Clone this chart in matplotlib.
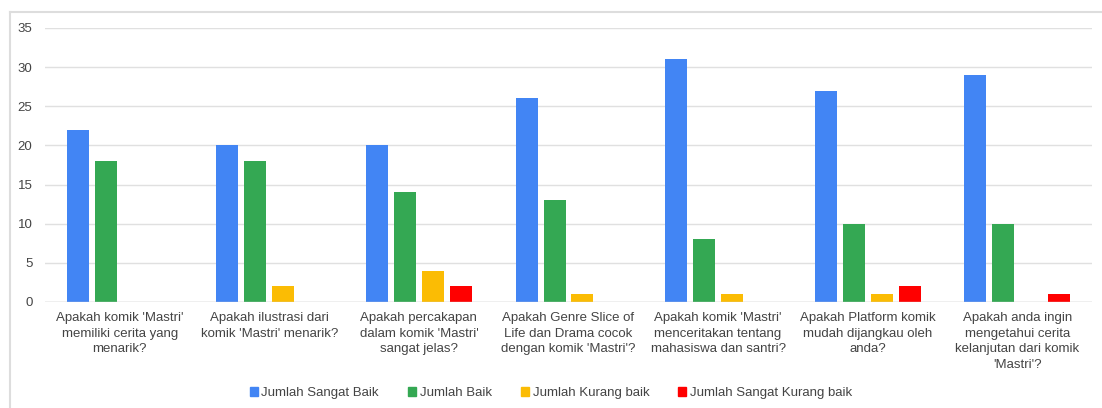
import matplotlib.pyplot as plt
from matplotlib.patches import Patch
from matplotlib.lines import Line2D
import numpy as np

plt.rcParams['font.family'] = ['Liberation Sans', 'DejaVu Sans']

questions = [
    "Apakah komik 'Mastri'\nmemiliki cerita yang\nmenarik?",
    "Apakah ilustrasi dari\nkomik 'Mastri' menarik?",
    "Apakah percakapan\ndalam komik 'Mastri'\nsangat jelas?",
    "Apakah Genre Slice of\nLife dan Drama cocok\ndengan komik 'Mastri'?",
    "Apakah komik 'Mastri'\nmenceritakan tentang\nmahasiswa dan santri?",
    "Apakah Platform komik\nmudah dijangkau oleh\nanda?",
    "Apakah anda ingin\nmengetahui cerita\nkelanjutan dari komik\n'Mastri'?",
]
series_names = ["Jumlah Sangat Baik", "Jumlah Baik", "Jumlah Kurang baik", "Jumlah Sangat Kurang baik"]
sangat_baik = [22, 20, 20, 26, 31, 27, 29]
baik = [18, 18, 14, 13, 8, 10, 10]
kurang_baik = [0, 2, 4, 1, 1, 1, 0]
sangat_kurang_baik = [0, 0, 2, 0, 0, 2, 1]
colors = ["#4285F4", "#34A853", "#FBBC04", "#FF0000"]

W, H = 1102, 408
fig = plt.figure(figsize=(W / 100, H / 100), dpi=100)
ax = fig.add_axes([45 / W, (H - 302) / H, (1092 - 45) / W, (302 - 28) / H])

x = np.arange(len(questions))
step = 0.187
width = 0.147
all_series = [sangat_baik, baik, kurang_baik, sangat_kurang_baik]
for k, (vals, c) in enumerate(zip(all_series, colors)):
    ax.bar(x + (k - 1.5) * step, vals, width, color=c, zorder=3)

ax.set_xlim(-0.5, len(questions) - 0.5)
ax.set_ylim(0, 35)
ax.set_yticks(range(0, 36, 5))
ax.grid(axis='y', color='#e0e0e0', linewidth=1, zorder=0)
ax.axhline(0, color='#cccccc', linewidth=1, zorder=4)
for s in ax.spines.values():
    s.set_visible(False)
ax.set_xticks(x)
ax.set_xticklabels(questions, fontsize=9.5, color='#444444', linespacing=1.42)
ax.tick_params(axis='x', length=0, pad=7)
ax.tick_params(axis='y', length=0, pad=9, labelsize=9.5, labelcolor='#444444')

# outer frame (left and top edges visible)
fig.add_artist(Line2D([10 / W, 10 / W], [0, 1 - 12 / H], color='#dddddd', linewidth=1.5))
fig.add_artist(Line2D([10 / W, 1], [1 - 12 / H, 1 - 12 / H], color='#dddddd', linewidth=1.5))

handles = [Patch(color=c) for c in colors]
fig.legend(handles, series_names, loc='center', bbox_to_anchor=(0.5, 1 - 393 / H),
           ncol=4, frameon=False, fontsize=9.5, handlelength=0.6, handleheight=0.6,
           handletextpad=0.3, columnspacing=2.2, labelcolor='#444444')

fig.savefig('out.png', dpi=100)
